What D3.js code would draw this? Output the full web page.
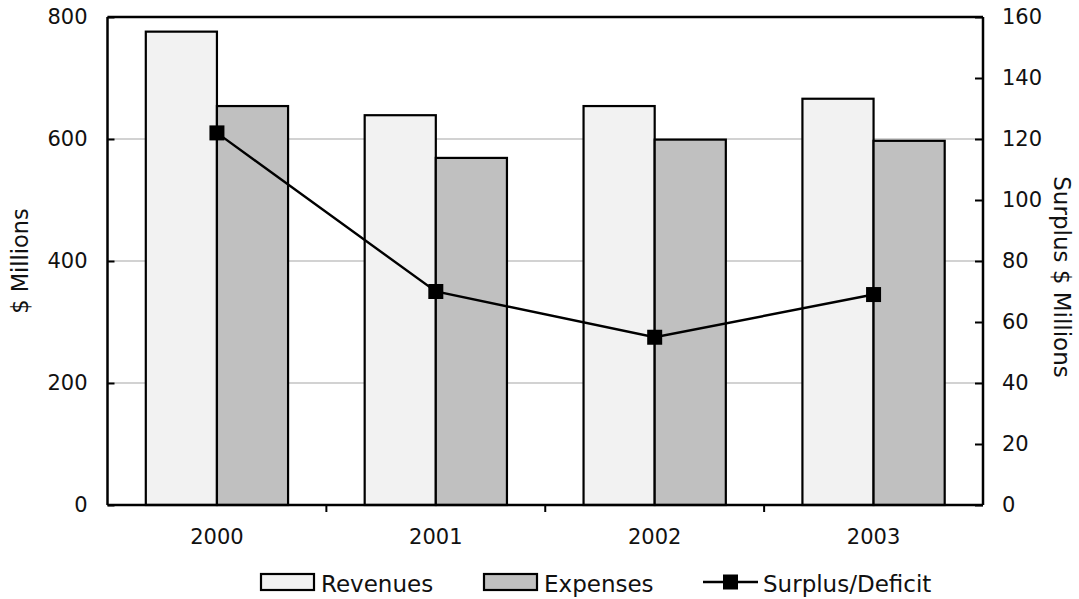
<!DOCTYPE html>
<html>
<head>
<meta charset="utf-8">
<script src="https://cdn.jsdelivr.net/npm/d3@7"></script>
<style>
  html, body { margin: 0; padding: 0; background: #fff; }
  svg { display: block; }
  text { font-family: "DejaVu Sans", sans-serif; fill: #111; }
</style>
</head>
<body>
<svg id="chart" width="1079" height="599"></svg>
<script>
// Annual figures, $ millions
const years = ["2000", "2001", "2002", "2003"];
const revenues = [776, 639, 654, 666];
const expenses = [654, 569, 599, 597];
const surplus = [122, 70, 55, 69];

const leftTicks = [0, 200, 400, 600, 800];
const rightTicks = [0, 20, 40, 60, 80, 100, 120, 140, 160];

const svg = d3.select("#chart");
const margin = { left: 107.5, right: 96, top: 17, bottom: 94 };
const W = 1079, H = 599;
const x0 = margin.left, x1 = W - margin.right;
const y0 = H - margin.bottom, y1 = margin.top;

const x = d3.scaleBand().domain(years).range([x0, x1]).paddingInner(0).paddingOuter(0);
const yL = d3.scaleLinear().domain([0, 800]).range([y0, y1]);
const yR = d3.scaleLinear().domain([0, 160]).range([y0, y1]);
const barW = x.bandwidth() * 0.325;
const cx = d => x(d) + x.bandwidth() / 2;

// gridlines at left-axis ticks
svg.append("g")
  .selectAll("line")
  .data(leftTicks.filter(d => d > 0 && d < 800))
  .join("line")
  .attr("x1", x0).attr("x2", x1)
  .attr("y1", d => yL(d)).attr("y2", d => yL(d))
  .attr("stroke", "#a6a6a6").attr("stroke-width", 1.2);

// bars
const groups = svg.append("g");
groups.selectAll("rect.rev")
  .data(years)
  .join("rect")
  .attr("class", "rev")
  .attr("x", d => cx(d) - barW)
  .attr("y", (d, i) => yL(revenues[i]))
  .attr("width", barW)
  .attr("height", (d, i) => y0 - yL(revenues[i]))
  .attr("fill", "#f2f2f2").attr("stroke", "#000").attr("stroke-width", 2.2);

groups.selectAll("rect.exp")
  .data(years)
  .join("rect")
  .attr("class", "exp")
  .attr("x", d => cx(d))
  .attr("y", (d, i) => yL(expenses[i]))
  .attr("width", barW)
  .attr("height", (d, i) => y0 - yL(expenses[i]))
  .attr("fill", "#c0c0c0").attr("stroke", "#000").attr("stroke-width", 2.2);

// surplus line on the right axis
const line = d3.line()
  .x((d, i) => cx(years[i]))
  .y(d => yR(d));
svg.append("path")
  .datum(surplus)
  .attr("d", line)
  .attr("fill", "none").attr("stroke", "#000").attr("stroke-width", 2.4);

svg.append("g")
  .selectAll("rect")
  .data(surplus)
  .join("rect")
  .attr("x", (d, i) => cx(years[i]) - 7.5)
  .attr("y", d => yR(d) - 7.5)
  .attr("width", 15).attr("height", 15)
  .attr("fill", "#000");

// axes
const leftAxis = d3.axisLeft(yL).tickValues(leftTicks).tickSize(-7).tickPadding(20).tickFormat(d3.format("d"));
const rightAxis = d3.axisRight(yR).tickValues(rightTicks).tickSize(-8).tickPadding(19).tickFormat(d3.format("d"));
const bottomAxis = d3.axisBottom(x).tickSize(0).tickPadding(24);

function styleAxis(g) {
  g.select(".domain").attr("stroke", "#000").attr("stroke-width", 2.5);
  g.selectAll(".tick line").attr("stroke", "#000").attr("stroke-width", 2);
  g.selectAll(".tick text").style("font-size", "21px").style("font-family", "DejaVu Sans, sans-serif").attr("fill", "#111");
}

svg.append("g").attr("transform", `translate(${x0},0)`).call(leftAxis).call(styleAxis)
  .call(g => g.select(".domain").attr("d", `M0,${y1}V${y0}`));
svg.append("g").attr("transform", `translate(${x1},0)`).call(rightAxis).call(styleAxis)
  .call(g => g.select(".domain").attr("d", `M0,${y1}V${y0}`));
svg.append("g").attr("transform", `translate(0,${y0})`).call(bottomAxis).call(styleAxis)
  .call(g => g.select(".domain").attr("d", `M${x0},0H${x1}`));

// top frame
svg.append("line")
  .attr("x1", x0).attr("x2", x1).attr("y1", y1).attr("y2", y1)
  .attr("stroke", "#000").attr("stroke-width", 2.5);

// category separators below the baseline
svg.append("g")
  .selectAll("line")
  .data(years.slice(1))
  .join("line")
  .attr("x1", d => x(d)).attr("x2", d => x(d))
  .attr("y1", y0).attr("y2", y0 + 7)
  .attr("stroke", "#000").attr("stroke-width", 2);

// axis titles
svg.append("text")
  .attr("transform", `translate(28,${(y0 + y1) / 2}) rotate(-90)`)
  .attr("text-anchor", "middle")
  .style("font-size", "22.5px")
  .text("$ Millions");

svg.append("text")
  .attr("transform", `translate(1054,277) rotate(90)`)
  .attr("text-anchor", "middle")
  .style("font-size", "23px")
  .text("Surplus $ Millions");

// legend
const legend = svg.append("g");
const ly = 582;
legend.append("rect").attr("x", 261).attr("y", ly - 8).attr("width", 53).attr("height", 16)
  .attr("fill", "#f2f2f2").attr("stroke", "#000").attr("stroke-width", 2.2);
legend.append("text").attr("x", 321).attr("y", ly + 9.5).style("font-size", "23px").text("Revenues");

legend.append("rect").attr("x", 484).attr("y", ly - 8).attr("width", 53).attr("height", 16)
  .attr("fill", "#c0c0c0").attr("stroke", "#000").attr("stroke-width", 2.2);
legend.append("text").attr("x", 544).attr("y", ly + 9.5).style("font-size", "23px").text("Expenses");

legend.append("line").attr("x1", 703).attr("x2", 758).attr("y1", ly).attr("y2", ly)
  .attr("stroke", "#000").attr("stroke-width", 2.4);
legend.append("rect").attr("x", 723).attr("y", ly - 7.5).attr("width", 15).attr("height", 15).attr("fill", "#000");
legend.append("text").attr("x", 763).attr("y", ly + 9.5).style("font-size", "23px").text("Surplus/Deficit");
</script>
</body>
</html>
